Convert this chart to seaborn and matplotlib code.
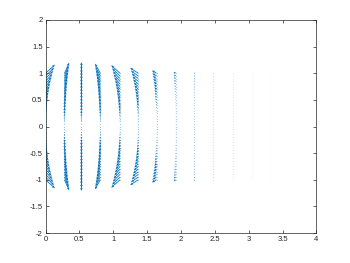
import numpy as np
import pandas as pd
import matplotlib
matplotlib.use("Agg")
import matplotlib.pyplot as plt
import seaborn as sns

# Column positions (tail x at y = 0)
col_x = [0.0, 0.28, 0.53, 0.81, 1.10, 1.37, 1.64, 1.92, 2.20, 2.48, 2.77, 3.05, 3.32]
# Vector components at the top of each column (y = 1); mirrored below
u_top = [0.14, 0.07, 0.0, -0.08, -0.13, -0.12, -0.07, -0.03, -0.01, -0.004, -0.002, -0.001, 0.0]
v_top = [0.16, 0.20, 0.21, 0.18, 0.15, 0.10, 0.05, 0.025, 0.015, 0.01, 0.006, 0.004, 0.002]
# Tail y positions of each column
y_levels = np.linspace(-1.0, 1.0, 41)

# Apparent strength (opacity) of each column
col_alpha = [1, 1, 1, 1, 1, 1, 1, 0.95, 0.8, 0.55, 0.35, 0.2, 0.08]

x_ticks = [0, 0.5, 1, 1.5, 2, 2.5, 3, 3.5, 4]
x_labels = ["0", "0.5", "1", "1.5", "2", "2.5", "3", "3.5", "4"]
y_ticks = [-2, -1.5, -1, -0.5, 0, 0.5, 1, 1.5, 2]
y_labels = ["-2", "-1.5", "-1", "-0.5", "0", "0.5", "1", "1.5", "2"]

rows = []
for i, (cx, ut, vt) in enumerate(zip(col_x, u_top, v_top)):
    for y in y_levels:
        rows.append({"col": i, "x": cx, "y": y, "u": ut * y * y, "v": vt * y})
df = pd.DataFrame(rows)

sns.set_theme(style="white")
plt.rcParams["axes.unicode_minus"] = False
plt.rcParams["font.family"] = ["Liberation Sans", "DejaVu Sans"]

blue = "#0072BD"
fig = plt.figure(figsize=(3.5, 2.63), dpi=100)
ax = fig.add_axes([0.13, 0.114, 0.774, 0.81])

for i, a in enumerate(col_alpha):
    sub = df[df["col"] == i]
    sns.scatterplot(data=sub, x="x", y="y", ax=ax, s=0.8, color=blue,
                    alpha=0.35 * a, linewidth=0, legend=False)
    ax.quiver(sub["x"], sub["y"], sub["u"], sub["v"], angles="xy",
              scale_units="xy", scale=1, color=blue, alpha=a, width=0.003,
              headwidth=3.2, headlength=3.8, headaxislength=3.3,
              minlength=0.4)

ax.set_xlim(0, 4)
ax.set_ylim(-2, 2)
ax.set_xticks(x_ticks)
ax.set_xticklabels(x_labels)
ax.set_yticks(y_ticks)
ax.set_yticklabels(y_labels)
ax.set_xlabel("")
ax.set_ylabel("")
for sp in ax.spines.values():
    sp.set_visible(True)
    sp.set_color("#262626")
    sp.set_linewidth(0.5)
ax.tick_params(direction="in", length=2.5, width=0.5, colors="#262626",
               labelsize=5.5, top=True, right=True, bottom=True, left=True,
               pad=2)

fig.savefig("out.png", dpi=100, facecolor="white")
